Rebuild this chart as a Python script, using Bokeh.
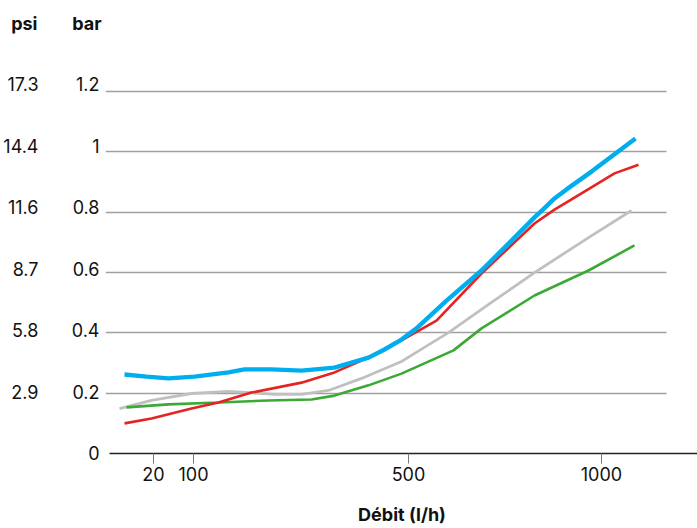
from bokeh.plotting import figure
from bokeh.layouts import column
from bokeh.models import Range1d, LinearAxis, FixedTicker, Grid
from bokeh.embed import file_html
from bokeh.resources import INLINE

FONT = "Inter"

# flow axis: tick positions (axis units along the non-linear flow scale) and labels
tick_pos = [48, 88, 303, 496]
tick_labels = ["20", "100", "500", "1000"]

# pressure axes
bar_ticks = [0, 0.2, 0.4, 0.6, 0.8, 1.0, 1.2]
bar_labels = ["0", "0.2", "0.4", "0.6", "0.8", "1", "1.2"]
psi_ticks = [0.2, 0.4, 0.6, 0.8, 1.0, 1.2]
psi_labels = ["2.9", "5.8", "8.7", "11.6", "14.4", "17.3"]

# unit headers above the pressure axes (psi outer column, bar inner column)
unit_psi = "psi"
unit_bar = "bar"
unit_level = 1.427

# series (x in flow-axis units, y in bar)
blue_x = [19, 41, 63, 89, 123, 139, 166, 196, 229, 263, 279, 296, 311, 341, 376, 406, 429, 439, 449, 461, 486, 530]
blue_y = [0.262, 0.255, 0.249, 0.255, 0.269, 0.279, 0.279, 0.275, 0.285, 0.318, 0.345, 0.378, 0.415,
          0.507, 0.607, 0.706, 0.783, 0.814, 0.846, 0.876, 0.935, 1.045]

red_x = [19, 46, 86, 113, 146, 196, 229, 263, 296, 331, 376, 429, 449, 469, 509, 533]
red_y = [0.100, 0.116, 0.149, 0.169, 0.202, 0.235, 0.269, 0.318, 0.375, 0.441, 0.597, 0.763, 0.809,
         0.849, 0.929, 0.958]

gray_x = [14, 46, 86, 123, 146, 169, 196, 223, 256, 296, 314, 343, 386, 429, 483, 526]
gray_y = [0.149, 0.176, 0.199, 0.206, 0.202, 0.196, 0.196, 0.209, 0.249, 0.305, 0.342, 0.401, 0.501,
          0.600, 0.716, 0.806]

green_x = [21, 63, 113, 163, 206, 229, 263, 296, 348, 376, 429, 483, 529]
green_y = [0.153, 0.163, 0.169, 0.176, 0.179, 0.192, 0.226, 0.265, 0.342, 0.415, 0.524, 0.607, 0.690]


def style_left(ax, standoff, bold=False):
    ax.axis_line_color = None
    ax.major_tick_line_color = None
    ax.minor_tick_line_color = None
    ax.major_tick_out = 0
    ax.major_tick_in = 0
    ax.major_label_standoff = standoff
    ax.major_label_text_font = FONT
    ax.major_label_text_font_size = "18px"
    ax.major_label_text_color = "#111111"
    if bold:
        ax.major_label_text_font_style = "bold"


# ---- header strip with the unit names ----
head = figure(frame_width=593, frame_height=40, output_backend="svg", toolbar_location=None,
              x_range=Range1d(0, 593), y_range=Range1d(1.3698, 1.5025),
              x_axis_location=None, y_axis_location=None,
              min_border_left=104, min_border_right=0, min_border_top=0, min_border_bottom=0)
head.outline_line_color = None
head.xgrid.visible = False
head.ygrid.visible = False
bar_head = LinearAxis(ticker=FixedTicker(ticks=[unit_level]), major_label_overrides={unit_level: unit_bar})
psi_head = LinearAxis(ticker=FixedTicker(ticks=[unit_level]), major_label_overrides={unit_level: unit_psi})
style_left(bar_head, 4, bold=True)
style_left(psi_head, 32, bold=True)
head.add_layout(bar_head, "left")
head.add_layout(psi_head, "left")

# ---- main chart ----
p = figure(frame_width=593, frame_height=413, output_backend="svg", toolbar_location=None,
           x_range=Range1d(0, 593), y_range=Range1d(0, 1.3698),
           x_axis_location=None, y_axis_location=None,
           min_border_left=104, min_border_right=0, min_border_top=0, min_border_bottom=75)
p.outline_line_color = None
p.xgrid.visible = False
p.ygrid.visible = False
# range used to place the pressure tick labels (labels sit slightly above their grid lines)
p.extra_y_ranges = {"labels": Range1d(-0.0016, 1.3415)}

# horizontal grid lines
g = Grid(dimension=1, ticker=FixedTicker(ticks=psi_ticks), grid_line_color="#a0a0a0", grid_line_width=1.3)
if "cross_bounds" in Grid.properties():
    g.cross_bounds = (0, 561)
p.add_layout(g)

# x axis
xaxis = LinearAxis(ticker=FixedTicker(ticks=tick_pos),
                   major_label_overrides={t: l for t, l in zip(tick_pos, tick_labels)},
                   bounds=(4, 593), axis_label="Débit (l/h)")
xaxis.axis_line_color = "#222222"
xaxis.axis_line_width = 1.3
xaxis.major_tick_out = 10
xaxis.major_tick_in = 0
xaxis.major_tick_line_color = "#777777"
xaxis.minor_tick_line_color = None
xaxis.major_label_standoff = 3
xaxis.major_label_text_font = FONT
xaxis.major_label_text_font_size = "18px"
xaxis.major_label_text_color = "#111111"
xaxis.axis_label_text_font = FONT
xaxis.axis_label_text_font_size = "18px"
xaxis.axis_label_text_font_style = "bold"
xaxis.axis_label_text_color = "#111111"
xaxis.axis_label_standoff = 20
p.add_layout(xaxis, "below")

# bar axis (inner) and psi axis (outer)
bar_axis = LinearAxis(y_range_name="labels", ticker=FixedTicker(ticks=bar_ticks),
                      major_label_overrides={t: l for t, l in zip(bar_ticks, bar_labels)})
psi_axis = LinearAxis(y_range_name="labels", ticker=FixedTicker(ticks=psi_ticks),
                      major_label_overrides={t: l for t, l in zip(psi_ticks, psi_labels)})
style_left(bar_axis, 6)
style_left(psi_axis, 30)
p.add_layout(bar_axis, "left")
p.add_layout(psi_axis, "left")

p.line(gray_x, gray_y, line_color="#c0c0c0", line_width=2.8)
p.line(green_x, green_y, line_color="#3ba935", line_width=2.6)
p.line(red_x, red_y, line_color="#e52421", line_width=2.6)
p.line(blue_x, blue_y, line_color="#00aeef", line_width=4.4)

layout = column(head, p, spacing=0)
open("out.html", "w").write(file_html(layout, INLINE))
